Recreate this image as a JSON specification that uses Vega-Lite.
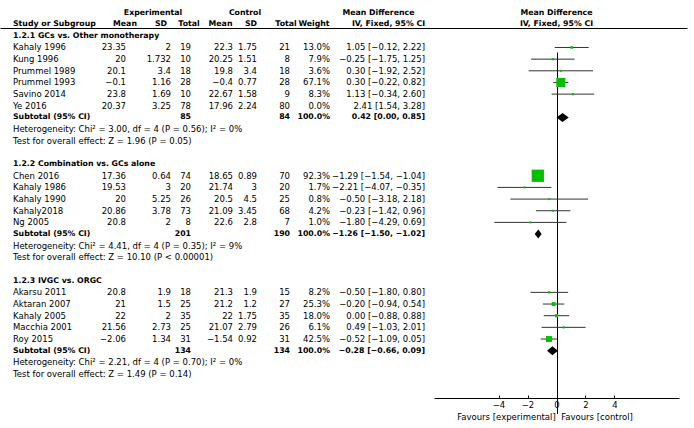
{
  "$schema": "https://vega.github.io/schema/vega-lite/v6.json",
  "width": 694,
  "height": 370,
  "autosize": {"type": "none"},
  "padding": {"left": 0, "right": 0, "top": 28, "bottom": 30},
  "background": "white",
  "config": {
    "view": {"stroke": null},
    "text": {"font": "DejaVu Sans", "fontSize": 8.5, "baseline": "middle", "color": "black"}
  },
  "datasets": {
    "studies": [
      {"group": "1.2.1", "row": "Kahaly 1996", "eMean": 23.35, "eSD": 2, "eN": 19, "cMean": 22.3, "cSD": 1.75, "cN": 21, "w": 0.130, "md": 1.05, "lo": -0.12, "hi": 2.22, "ci": "1.05 [−0.12, 2.22]"},
      {"group": "1.2.1", "row": "Kung 1996", "eMean": 20, "eSD": 1.732, "eN": 10, "cMean": 20.25, "cSD": 1.51, "cN": 8, "w": 0.079, "md": -0.25, "lo": -1.75, "hi": 1.25, "ci": "−0.25 [−1.75, 1.25]"},
      {"group": "1.2.1", "row": "Prummel 1989", "eMean": 20.1, "eSD": 3.4, "eN": 18, "cMean": 19.8, "cSD": 3.4, "cN": 18, "w": 0.036, "md": 0.30, "lo": -1.92, "hi": 2.52, "ci": "0.30 [−1.92, 2.52]"},
      {"group": "1.2.1", "row": "Prummel 1993", "eMean": -0.1, "eSD": 1.16, "eN": 28, "cMean": -0.4, "cSD": 0.77, "cN": 28, "w": 0.671, "md": 0.30, "lo": -0.22, "hi": 0.82, "ci": "0.30 [−0.22, 0.82]"},
      {"group": "1.2.1", "row": "Savino 2014", "eMean": 23.8, "eSD": 1.69, "eN": 10, "cMean": 22.67, "cSD": 1.58, "cN": 9, "w": 0.083, "md": 1.13, "lo": -0.34, "hi": 2.60, "ci": "1.13 [−0.34, 2.60]"},
      {"group": "1.2.1", "row": "Ye 2016", "eMean": 20.37, "eSD": 3.25, "eN": 78, "cMean": 17.96, "cSD": 2.24, "cN": 80, "w": 0.0, "md": 2.41, "lo": 1.54, "hi": 3.28, "ci": "2.41 [1.54, 3.28]"},
      {"group": "1.2.2", "row": "Chen 2016", "eMean": 17.36, "eSD": 0.64, "eN": 74, "cMean": 18.65, "cSD": 0.89, "cN": 70, "w": 0.923, "md": -1.29, "lo": -1.54, "hi": -1.04, "ci": "−1.29 [−1.54, −1.04]"},
      {"group": "1.2.2", "row": "Kahaly 1986", "eMean": 19.53, "eSD": 3, "eN": 20, "cMean": 21.74, "cSD": 3, "cN": 20, "w": 0.017, "md": -2.21, "lo": -4.07, "hi": -0.35, "ci": "−2.21 [−4.07, −0.35]"},
      {"group": "1.2.2", "row": "Kahaly 1990", "eMean": 20, "eSD": 5.25, "eN": 26, "cMean": 20.5, "cSD": 4.5, "cN": 25, "w": 0.008, "md": -0.50, "lo": -3.18, "hi": 2.18, "ci": "−0.50 [−3.18, 2.18]"},
      {"group": "1.2.2", "row": "Kahaly2018", "eMean": 20.86, "eSD": 3.78, "eN": 73, "cMean": 21.09, "cSD": 3.45, "cN": 68, "w": 0.042, "md": -0.23, "lo": -1.42, "hi": 0.96, "ci": "−0.23 [−1.42, 0.96]"},
      {"group": "1.2.2", "row": "Ng 2005", "eMean": 20.8, "eSD": 2, "eN": 8, "cMean": 22.6, "cSD": 2.8, "cN": 7, "w": 0.010, "md": -1.80, "lo": -4.29, "hi": 0.69, "ci": "−1.80 [−4.29, 0.69]"},
      {"group": "1.2.3", "row": "Akarsu 2011", "eMean": 20.8, "eSD": 1.9, "eN": 18, "cMean": 21.3, "cSD": 1.9, "cN": 15, "w": 0.082, "md": -0.50, "lo": -1.80, "hi": 0.80, "ci": "−0.50 [−1.80, 0.80]"},
      {"group": "1.2.3", "row": "Aktaran 2007", "eMean": 21, "eSD": 1.5, "eN": 25, "cMean": 21.2, "cSD": 1.2, "cN": 27, "w": 0.253, "md": -0.20, "lo": -0.94, "hi": 0.54, "ci": "−0.20 [−0.94, 0.54]"},
      {"group": "1.2.3", "row": "Kahaly 2005", "eMean": 22, "eSD": 2, "eN": 35, "cMean": 22, "cSD": 1.75, "cN": 35, "w": 0.180, "md": 0.00, "lo": -0.88, "hi": 0.88, "ci": "0.00 [−0.88, 0.88]"},
      {"group": "1.2.3", "row": "Macchia 2001", "eMean": 21.56, "eSD": 2.73, "eN": 25, "cMean": 21.07, "cSD": 2.79, "cN": 26, "w": 0.061, "md": 0.49, "lo": -1.03, "hi": 2.01, "ci": "0.49 [−1.03, 2.01]"},
      {"group": "1.2.3", "row": "Roy 2015", "eMean": -2.06, "eSD": 1.34, "eN": 31, "cMean": -1.54, "cSD": 0.92, "cN": 31, "w": 0.425, "md": -0.52, "lo": -1.09, "hi": 0.05, "ci": "−0.52 [−1.09, 0.05]"}
    ],
    "subs": [
      {"group": "1.2.1", "row": "sub 1.2.1", "label": "Subtotal (95% CI)", "eN": 85, "cN": 84, "w": 1.0, "md": 0.42, "lo": 0.00, "hi": 0.85, "ci": "0.42 [0.00, 0.85]"},
      {"group": "1.2.2", "row": "sub 1.2.2", "label": "Subtotal (95% CI)", "eN": 201, "cN": 190, "w": 1.0, "md": -1.26, "lo": -1.50, "hi": -1.02, "ci": "−1.26 [−1.50, −1.02]"},
      {"group": "1.2.3", "row": "sub 1.2.3", "label": "Subtotal (95% CI)", "eN": 134, "cN": 134, "w": 1.0, "md": -0.28, "lo": -0.66, "hi": 0.09, "ci": "−0.28 [−0.66, 0.09]"}
    ],
    "left": [
      {"row": "hdr2", "kind": "header", "label": "Study or Subgroup"},
      {"row": "1.2.1 GCs vs. Other monotherapy", "kind": "group", "label": "1.2.1 GCs vs. Other monotherapy"},
      {"row": "Heterogeneity: Chi² = 3.00, df = 4 (P = 0.56); I² = 0%", "kind": "stat", "label": "Heterogeneity: Chi² = 3.00, df = 4 (P = 0.56); I² = 0%"},
      {"row": "Test for overall effect: Z = 1.96 (P = 0.05)", "kind": "stat", "label": "Test for overall effect: Z = 1.96 (P = 0.05)"},
      {"row": "1.2.2 Combination vs. GCs alone", "kind": "group", "label": "1.2.2 Combination vs. GCs alone"},
      {"row": "Heterogeneity: Chi² = 4.41, df = 4 (P = 0.35); I² = 9%", "kind": "stat", "label": "Heterogeneity: Chi² = 4.41, df = 4 (P = 0.35); I² = 9%"},
      {"row": "Test for overall effect: Z = 10.10 (P < 0.00001)", "kind": "stat", "label": "Test for overall effect: Z = 10.10 (P < 0.00001)"},
      {"row": "1.2.3 IVGC vs. ORGC", "kind": "group", "label": "1.2.3 IVGC vs. ORGC"},
      {"row": "Heterogeneity: Chi² = 2.21, df = 4 (P = 0.70); I² = 0%", "kind": "stat", "label": "Heterogeneity: Chi² = 2.21, df = 4 (P = 0.70); I² = 0%"},
      {"row": "Test for overall effect: Z = 1.49 (P = 0.14)", "kind": "stat", "label": "Test for overall effect: Z = 1.49 (P = 0.14)"}
    ],
    "hdrc": [
      {"row": "hdr1", "colId": 11, "label": "Experimental"},
      {"row": "hdr1", "colId": 15, "label": "Control"},
      {"row": "hdr1", "colId": 20, "label": "Mean Difference"},
      {"row": "hdr2", "colId": 12, "label": "Mean"},
      {"row": "hdr2", "colId": 13, "label": "SD"},
      {"row": "hdr2", "colId": 14, "label": "Total"},
      {"row": "hdr2", "colId": 16, "label": "Mean"},
      {"row": "hdr2", "colId": 17, "label": "SD"},
      {"row": "hdr2", "colId": 18, "label": "Total"},
      {"row": "hdr2", "colId": 19, "label": "Weight"},
      {"row": "hdr2", "colId": 21, "label": "IV, Fixed, 95% CI"}
    ],
    "fhdr": [
      {"row": "hdr1", "label": "Mean Difference"},
      {"row": "hdr2", "label": "IV, Fixed, 95% CI"}
    ]
  },
  "encoding": {
    "y": {
      "field": "row", "type": "nominal", "axis": null,
      "scale": {
        "type": "point", "padding": 0, "range": [-15.5, 346],
        "domain": ["hdr1", "hdr2", "1.2.1 GCs vs. Other monotherapy", "Kahaly 1996", "Kung 1996", "Prummel 1989", "Prummel 1993", "Savino 2014", "Ye 2016", "sub 1.2.1", "Heterogeneity: Chi² = 3.00, df = 4 (P = 0.56); I² = 0%", "Test for overall effect: Z = 1.96 (P = 0.05)", "gap1", "1.2.2 Combination vs. GCs alone", "Chen 2016", "Kahaly 1986", "Kahaly 1990", "Kahaly2018", "Ng 2005", "sub 1.2.2", "Heterogeneity: Chi² = 4.41, df = 4 (P = 0.35); I² = 9%", "Test for overall effect: Z = 10.10 (P < 0.00001)", "gap2", "1.2.3 IVGC vs. ORGC", "Akarsu 2011", "Aktaran 2007", "Kahaly 2005", "Macchia 2001", "Roy 2015", "sub 1.2.3", "Heterogeneity: Chi² = 2.21, df = 4 (P = 0.70); I² = 0%", "Test for overall effect: Z = 1.49 (P = 0.14)"]
      }
    }
  },
  "layer": [
    {
      "layer": [
        {"data": {"name": "studies"}, "mark": {"type": "text", "align": "left"},
         "encoding": {"x": {"datum": 1, "type": "quantitative", "scale": {"domain": [0,1,2,3,4,5,6,7,8,9,11,12,13,14,15,16,17,18,19,20,21,30], "range": [0,13,126,171,191,233,257,290,330,425,153,125,161,189,245,220.5,251,286,314,378.5,388.5,687], "nice": false, "zero": false}, "axis": {"orient": "top", "title": null, "labels": false, "ticks": false, "grid": false, "domainColor": "black"}},
                      "text": {"field": "row"}}},
        {"data": {"name": "left"}, "transform": [{"filter": "datum.kind === 'header' || datum.kind === 'group'"}], "mark": {"type": "text", "align": "left", "fontWeight": "bold", "fontSize": 7.8},
         "encoding": {"x": {"datum": 1, "type": "quantitative", "scale": {"domain": [0,1,2,3,4,5,6,7,8,9,11,12,13,14,15,16,17,18,19,20,21,30], "range": [0,13,126,171,191,233,257,290,330,425,153,125,161,189,245,220.5,251,286,314,378.5,388.5,687], "nice": false, "zero": false}, "axis": {"orient": "top", "title": null, "labels": false, "ticks": false, "grid": false, "domainColor": "black"}},
                      "text": {"field": "label"}}},
        {"data": {"name": "left"}, "transform": [{"filter": "datum.kind === 'stat'"}], "mark": {"type": "text", "align": "left"},
         "encoding": {"x": {"datum": 1, "type": "quantitative", "scale": {"domain": [0,1,2,3,4,5,6,7,8,9,11,12,13,14,15,16,17,18,19,20,21,30], "range": [0,13,126,171,191,233,257,290,330,425,153,125,161,189,245,220.5,251,286,314,378.5,388.5,687], "nice": false, "zero": false}, "axis": {"orient": "top", "title": null, "labels": false, "ticks": false, "grid": false, "domainColor": "black"}},
                      "text": {"field": "label"}}},
        {"data": {"name": "subs"}, "mark": {"type": "text", "align": "left", "fontWeight": "bold", "fontSize": 7.8},
         "encoding": {"x": {"datum": 1, "type": "quantitative", "scale": {"domain": [0,1,2,3,4,5,6,7,8,9,11,12,13,14,15,16,17,18,19,20,21,30], "range": [0,13,126,171,191,233,257,290,330,425,153,125,161,189,245,220.5,251,286,314,378.5,388.5,687], "nice": false, "zero": false}, "axis": {"orient": "top", "title": null, "labels": false, "ticks": false, "grid": false, "domainColor": "black"}},
                      "text": {"field": "label"}}},
        {"data": {"name": "studies"}, "mark": {"type": "text", "align": "right"},
         "encoding": {"x": {"datum": 2, "type": "quantitative", "scale": {"domain": [0,1,2,3,4,5,6,7,8,9,11,12,13,14,15,16,17,18,19,20,21,30], "range": [0,13,126,171,191,233,257,290,330,425,153,125,161,189,245,220.5,251,286,314,378.5,388.5,687], "nice": false, "zero": false}, "axis": {"orient": "top", "title": null, "labels": false, "ticks": false, "grid": false, "domainColor": "black"}},
                      "text": {"field": "eMean", "type": "quantitative", "format": "~g"}}},
        {"data": {"name": "studies"}, "mark": {"type": "text", "align": "right"},
         "encoding": {"x": {"datum": 3, "type": "quantitative", "scale": {"domain": [0,1,2,3,4,5,6,7,8,9,11,12,13,14,15,16,17,18,19,20,21,30], "range": [0,13,126,171,191,233,257,290,330,425,153,125,161,189,245,220.5,251,286,314,378.5,388.5,687], "nice": false, "zero": false}, "axis": {"orient": "top", "title": null, "labels": false, "ticks": false, "grid": false, "domainColor": "black"}},
                      "text": {"field": "eSD", "type": "quantitative", "format": "~g"}}},
        {"data": {"name": "studies"}, "mark": {"type": "text", "align": "right"},
         "encoding": {"x": {"datum": 4, "type": "quantitative", "scale": {"domain": [0,1,2,3,4,5,6,7,8,9,11,12,13,14,15,16,17,18,19,20,21,30], "range": [0,13,126,171,191,233,257,290,330,425,153,125,161,189,245,220.5,251,286,314,378.5,388.5,687], "nice": false, "zero": false}, "axis": {"orient": "top", "title": null, "labels": false, "ticks": false, "grid": false, "domainColor": "black"}},
                      "text": {"field": "eN", "type": "quantitative", "format": "d"}}},
        {"data": {"name": "studies"}, "mark": {"type": "text", "align": "right"},
         "encoding": {"x": {"datum": 5, "type": "quantitative", "scale": {"domain": [0,1,2,3,4,5,6,7,8,9,11,12,13,14,15,16,17,18,19,20,21,30], "range": [0,13,126,171,191,233,257,290,330,425,153,125,161,189,245,220.5,251,286,314,378.5,388.5,687], "nice": false, "zero": false}, "axis": {"orient": "top", "title": null, "labels": false, "ticks": false, "grid": false, "domainColor": "black"}},
                      "text": {"field": "cMean", "type": "quantitative", "format": "~g"}}},
        {"data": {"name": "studies"}, "mark": {"type": "text", "align": "right"},
         "encoding": {"x": {"datum": 6, "type": "quantitative", "scale": {"domain": [0,1,2,3,4,5,6,7,8,9,11,12,13,14,15,16,17,18,19,20,21,30], "range": [0,13,126,171,191,233,257,290,330,425,153,125,161,189,245,220.5,251,286,314,378.5,388.5,687], "nice": false, "zero": false}, "axis": {"orient": "top", "title": null, "labels": false, "ticks": false, "grid": false, "domainColor": "black"}},
                      "text": {"field": "cSD", "type": "quantitative", "format": "~g"}}},
        {"data": {"name": "studies"}, "mark": {"type": "text", "align": "right"},
         "encoding": {"x": {"datum": 7, "type": "quantitative", "scale": {"domain": [0,1,2,3,4,5,6,7,8,9,11,12,13,14,15,16,17,18,19,20,21,30], "range": [0,13,126,171,191,233,257,290,330,425,153,125,161,189,245,220.5,251,286,314,378.5,388.5,687], "nice": false, "zero": false}, "axis": {"orient": "top", "title": null, "labels": false, "ticks": false, "grid": false, "domainColor": "black"}},
                      "text": {"field": "cN", "type": "quantitative", "format": "d"}}},
        {"data": {"name": "studies"}, "mark": {"type": "text", "align": "right"},
         "encoding": {"x": {"datum": 8, "type": "quantitative", "scale": {"domain": [0,1,2,3,4,5,6,7,8,9,11,12,13,14,15,16,17,18,19,20,21,30], "range": [0,13,126,171,191,233,257,290,330,425,153,125,161,189,245,220.5,251,286,314,378.5,388.5,687], "nice": false, "zero": false}, "axis": {"orient": "top", "title": null, "labels": false, "ticks": false, "grid": false, "domainColor": "black"}},
                      "text": {"field": "w", "type": "quantitative", "format": ".1%"}}},
        {"data": {"name": "studies"}, "mark": {"type": "text", "align": "right"},
         "encoding": {"x": {"datum": 9, "type": "quantitative", "scale": {"domain": [0,1,2,3,4,5,6,7,8,9,11,12,13,14,15,16,17,18,19,20,21,30], "range": [0,13,126,171,191,233,257,290,330,425,153,125,161,189,245,220.5,251,286,314,378.5,388.5,687], "nice": false, "zero": false}, "axis": {"orient": "top", "title": null, "labels": false, "ticks": false, "grid": false, "domainColor": "black"}},
                      "text": {"field": "ci"}}},
        {"data": {"name": "subs"}, "mark": {"type": "text", "align": "right", "fontWeight": "bold", "fontSize": 7.8},
         "encoding": {"x": {"datum": 4, "type": "quantitative", "scale": {"domain": [0,1,2,3,4,5,6,7,8,9,11,12,13,14,15,16,17,18,19,20,21,30], "range": [0,13,126,171,191,233,257,290,330,425,153,125,161,189,245,220.5,251,286,314,378.5,388.5,687], "nice": false, "zero": false}, "axis": {"orient": "top", "title": null, "labels": false, "ticks": false, "grid": false, "domainColor": "black"}},
                      "text": {"field": "eN", "type": "quantitative", "format": "d"}}},
        {"data": {"name": "subs"}, "mark": {"type": "text", "align": "right", "fontWeight": "bold", "fontSize": 7.8},
         "encoding": {"x": {"datum": 7, "type": "quantitative", "scale": {"domain": [0,1,2,3,4,5,6,7,8,9,11,12,13,14,15,16,17,18,19,20,21,30], "range": [0,13,126,171,191,233,257,290,330,425,153,125,161,189,245,220.5,251,286,314,378.5,388.5,687], "nice": false, "zero": false}, "axis": {"orient": "top", "title": null, "labels": false, "ticks": false, "grid": false, "domainColor": "black"}},
                      "text": {"field": "cN", "type": "quantitative", "format": "d"}}},
        {"data": {"name": "subs"}, "mark": {"type": "text", "align": "right", "fontWeight": "bold", "fontSize": 7.8},
         "encoding": {"x": {"datum": 8, "type": "quantitative", "scale": {"domain": [0,1,2,3,4,5,6,7,8,9,11,12,13,14,15,16,17,18,19,20,21,30], "range": [0,13,126,171,191,233,257,290,330,425,153,125,161,189,245,220.5,251,286,314,378.5,388.5,687], "nice": false, "zero": false}, "axis": {"orient": "top", "title": null, "labels": false, "ticks": false, "grid": false, "domainColor": "black"}},
                      "text": {"field": "w", "type": "quantitative", "format": ".1%"}}},
        {"data": {"name": "subs"}, "mark": {"type": "text", "align": "right", "fontWeight": "bold", "fontSize": 7.8},
         "encoding": {"x": {"datum": 9, "type": "quantitative", "scale": {"domain": [0,1,2,3,4,5,6,7,8,9,11,12,13,14,15,16,17,18,19,20,21,30], "range": [0,13,126,171,191,233,257,290,330,425,153,125,161,189,245,220.5,251,286,314,378.5,388.5,687], "nice": false, "zero": false}, "axis": {"orient": "top", "title": null, "labels": false, "ticks": false, "grid": false, "domainColor": "black"}},
                      "text": {"field": "ci"}}},
        {"data": {"name": "hdrc"}, "mark": {"type": "text", "align": "center", "fontWeight": "bold", "fontSize": 7.8},
         "encoding": {"x": {"field": "colId", "type": "quantitative", "scale": {"domain": [0,1,2,3,4,5,6,7,8,9,11,12,13,14,15,16,17,18,19,20,21,30], "range": [0,13,126,171,191,233,257,290,330,425,153,125,161,189,245,220.5,251,286,314,378.5,388.5,687], "nice": false, "zero": false}, "axis": {"orient": "top", "title": null, "labels": false, "ticks": false, "grid": false, "domainColor": "black"}},
                      "text": {"field": "label"}}}
      ]
    },
    {
      "layer": [
        {"data": {"name": "studies"}, "transform": [{"filter": "datum.w > 0"}], "mark": {"type": "rule", "color": "#333333", "strokeWidth": 1},
         "encoding": {"x": {"field": "lo", "type": "quantitative", "scale": {"domain": [-8.45, 8.45], "range": [434, 679], "nice": false, "zero": false},
                            "axis": {"orient": "bottom", "values": [-4, -2, 0, 2, 4], "format": "d", "title": "Favours [experimental]\u00a0\u00a0Favours [control]", "titleX": 544.5, "titleY": 18, "titleAlign": "center", "titleBaseline": "middle", "titleFont": "DejaVu Sans", "titleFontSize": 8.5, "titleFontWeight": "normal", "titleColor": "black", "labelFont": "DejaVu Sans", "labelFontSize": 8.5, "labelColor": "black", "labelPadding": 5, "tickSize": -3, "tickColor": "black", "domainColor": "black", "grid": true, "gridColor": "black", "gridOpacity": {"condition": {"test": "datum.value === 0", "value": 1}, "value": 0}}},
                      "x2": {"field": "hi"}}},
        {"data": {"name": "studies"}, "transform": [{"filter": "datum.w > 0"}], "mark": {"type": "point", "shape": "square", "filled": true, "color": "#00c000", "opacity": 1},
         "encoding": {"x": {"field": "md", "type": "quantitative", "scale": {"domain": [-8.45, 8.45], "range": [434, 679], "nice": false, "zero": false},
                            "axis": {"orient": "bottom", "values": [-4, -2, 0, 2, 4], "format": "d", "title": "Favours [experimental]\u00a0\u00a0Favours [control]", "titleX": 544.5, "titleY": 18, "titleAlign": "center", "titleBaseline": "middle", "titleFont": "DejaVu Sans", "titleFontSize": 8.5, "titleFontWeight": "normal", "titleColor": "black", "labelFont": "DejaVu Sans", "labelFontSize": 8.5, "labelColor": "black", "labelPadding": 5, "tickSize": -3, "tickColor": "black", "domainColor": "black", "grid": true, "gridColor": "black", "gridOpacity": {"condition": {"test": "datum.value === 0", "value": 1}, "value": 0}}},
                      "size": {"field": "w", "type": "quantitative", "scale": {"type": "pow", "exponent": 2, "domain": [0, 0.923], "range": [4, 151]}, "legend": null}}},
        {"data": {"name": "subs"}, "mark": {"type": "point", "filled": true, "color": "black", "opacity": 1, "size": 151},
         "encoding": {"x": {"field": "md", "type": "quantitative", "scale": {"domain": [-8.45, 8.45], "range": [434, 679], "nice": false, "zero": false},
                            "axis": {"orient": "bottom", "values": [-4, -2, 0, 2, 4], "format": "d", "title": "Favours [experimental]\u00a0\u00a0Favours [control]", "titleX": 544.5, "titleY": 18, "titleAlign": "center", "titleBaseline": "middle", "titleFont": "DejaVu Sans", "titleFontSize": 8.5, "titleFontWeight": "normal", "titleColor": "black", "labelFont": "DejaVu Sans", "labelFontSize": 8.5, "labelColor": "black", "labelPadding": 5, "tickSize": -3, "tickColor": "black", "domainColor": "black", "grid": true, "gridColor": "black", "gridOpacity": {"condition": {"test": "datum.value === 0", "value": 1}, "value": 0}}},
                      "shape": {"field": "group", "type": "nominal", "legend": null,
                                "scale": {"domain": ["1.2.1", "1.2.2", "1.2.3"], "range": ["M-1,0L0,-0.73L1,0L0,0.73Z", "M-0.566,0L0,-0.73L0.566,0L0,0.73Z", "M-0.884,0L0,-0.73L0.884,0L0,0.73Z"]}}}},
        {"data": {"name": "fhdr"}, "mark": {"type": "text", "align": "center", "fontWeight": "bold", "fontSize": 7.8},
         "encoding": {"x": {"datum": 0, "type": "quantitative", "scale": {"domain": [-8.45, 8.45], "range": [434, 679], "nice": false, "zero": false},
                            "axis": {"orient": "bottom", "values": [-4, -2, 0, 2, 4], "format": "d", "title": "Favours [experimental]\u00a0\u00a0Favours [control]", "titleX": 544.5, "titleY": 18, "titleAlign": "center", "titleBaseline": "middle", "titleFont": "DejaVu Sans", "titleFontSize": 8.5, "titleFontWeight": "normal", "titleColor": "black", "labelFont": "DejaVu Sans", "labelFontSize": 8.5, "labelColor": "black", "labelPadding": 5, "tickSize": -3, "tickColor": "black", "domainColor": "black", "grid": true, "gridColor": "black", "gridOpacity": {"condition": {"test": "datum.value === 0", "value": 1}, "value": 0}}},
                      "text": {"field": "label"}}}
      ]
    }
  ],
  "resolve": {"scale": {"x": "independent"}, "axis": {"x": "independent"}}
}
